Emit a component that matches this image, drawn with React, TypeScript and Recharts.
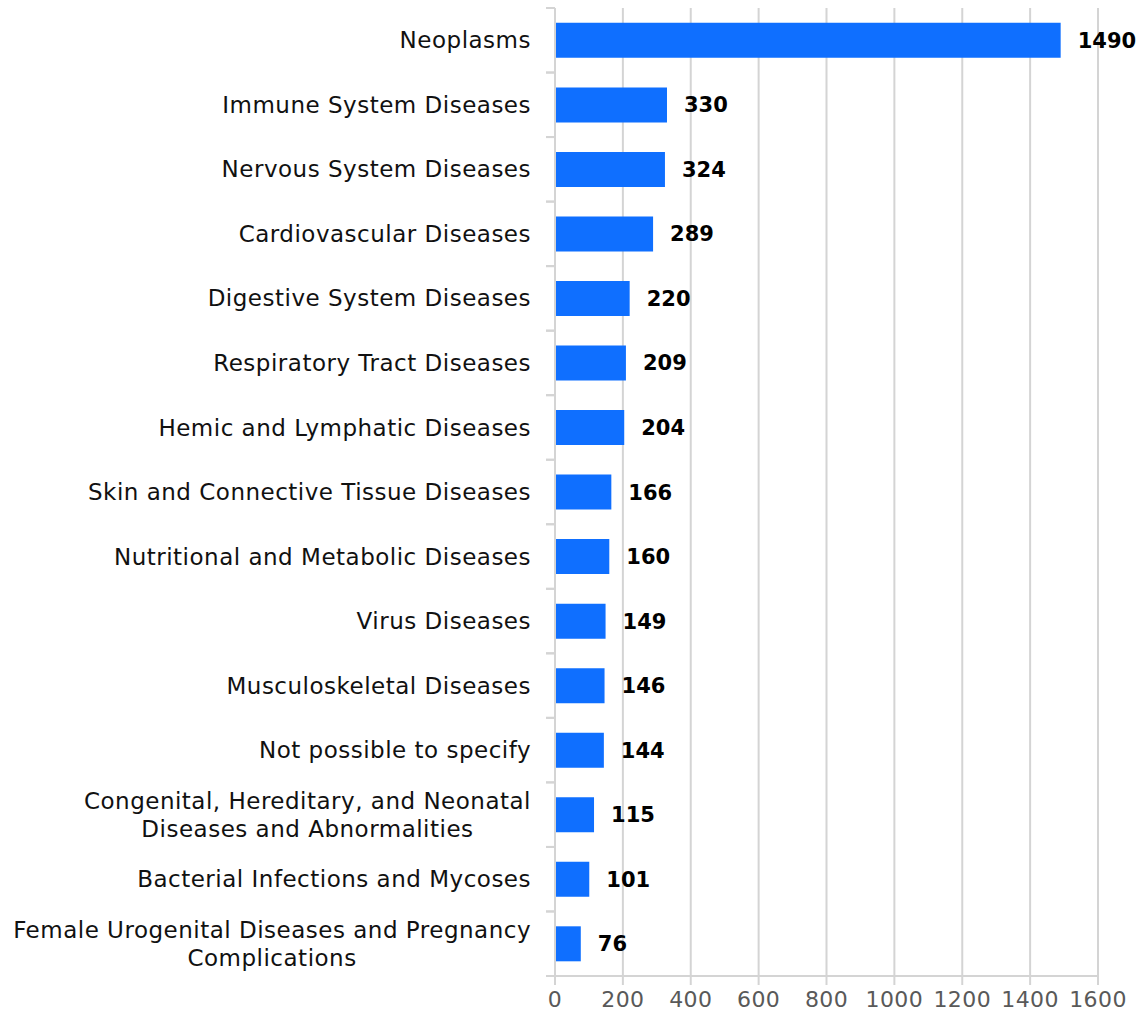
import { BarChart, Bar, XAxis, YAxis, CartesianGrid, LabelList } from 'recharts';

const categories = [
  'Neoplasms',
  'Immune System Diseases',
  'Nervous System Diseases',
  'Cardiovascular Diseases',
  'Digestive System Diseases',
  'Respiratory Tract Diseases',
  'Hemic and Lymphatic Diseases',
  'Skin and Connective Tissue Diseases',
  'Nutritional and Metabolic Diseases',
  'Virus Diseases',
  'Musculoskeletal Diseases',
  'Not possible to specify',
  'Congenital, Hereditary, and Neonatal|Diseases and Abnormalities',
  'Bacterial Infections and Mycoses',
  'Female Urogenital Diseases and Pregnancy|Complications',
];

const counts = [1490, 330, 324, 289, 220, 209, 204, 166, 160, 149, 146, 144, 115, 101, 76];

const xTicks = [0, 200, 400, 600, 800, 1000, 1200, 1400, 1600];

const data = categories.map((name, i) => ({ name, value: counts[i] }));

const W = 1147;
const H = 1020;
const TOP = 8;
const BOTTOM = 44;
const AXIS_W = 555;
const FONT = 'DejaVu Sans, Verdana, sans-serif';
const LABEL_SIZE = 23;
const SPACING = 0.5;
const GRID = '#d4d4d4';

const bandHalf = (H - TOP - BOTTOM) / categories.length / 2;

let ctx: CanvasRenderingContext2D | null = null;
function textWidth(s: string) {
  if (!ctx) ctx = document.createElement('canvas').getContext('2d');
  if (!ctx) return s.length * 12;
  ctx.font = `${LABEL_SIZE}px DejaVu Sans`;
  return ctx.measureText(s).width + s.length * SPACING;
}

function CategoryTick(props: any) {
  const { x, y, payload } = props;
  const lines = String(payload.value).split('|');
  const axisX = x + 24;
  let label;
  if (lines.length === 1) {
    label = (
      <text x={x} y={y} dy="0.35em" textAnchor="end" fontSize={LABEL_SIZE} letterSpacing={SPACING} fill="#111" fontFamily={FONT}>
        {lines[0]}
      </text>
    );
  } else {
    const cx = x - textWidth(lines[0]) / 2;
    label = (
      <text x={cx} y={y - 14} textAnchor="middle" fontSize={LABEL_SIZE} letterSpacing={SPACING} fill="#111" fontFamily={FONT}>
        {lines.map((l, i) => (
          <tspan key={i} x={cx} dy={i === 0 ? '0.35em' : 28}>{l}</tspan>
        ))}
      </text>
    );
  }
  return (
    <g>
      <line x1={axisX - 9} x2={axisX} y1={y - bandHalf} y2={y - bandHalf} stroke={GRID} strokeWidth={2} />
      <line x1={axisX - 9} x2={axisX} y1={y + bandHalf} y2={y + bandHalf} stroke={GRID} strokeWidth={2} />
      {label}
    </g>
  );
}

export default function App() {
  return (
    <div style={{ position: 'absolute', left: 0, top: 0, background: '#fff' }}>
      <BarChart
        width={W}
        height={H}
        data={data}
        layout="vertical"
        margin={{ top: TOP, right: 49, left: 0, bottom: 0 }}
        barCategoryGap="23%"
      >
        <CartesianGrid horizontal={false} stroke={GRID} strokeWidth={2} />
        <XAxis
          type="number"
          domain={[0, 1600]}
          ticks={xTicks}
          height={BOTTOM}
          tickSize={9}
          tickMargin={6}
          axisLine={{ stroke: GRID, strokeWidth: 2 }}
          tickLine={{ stroke: GRID, strokeWidth: 2 }}
          tick={{ fontSize: 22, fill: '#595959', fontFamily: FONT, letterSpacing: 0.4 }}
        />
        <YAxis
          type="category"
          dataKey="name"
          width={AXIS_W}
          tickLine={false}
          tickSize={0}
          tickMargin={24}
          interval={0}
          axisLine={{ stroke: GRID, strokeWidth: 2 }}
          tick={<CategoryTick />}
        />
        <Bar dataKey="value" fill="#0f6fff" isAnimationActive={false}>
          <LabelList
            dataKey="value"
            position="right"
            offset={17}
            fill="#000"
            fontSize={21}
            fontWeight="bold"
            fontFamily={FONT}
          />
        </Bar>
      </BarChart>
    </div>
  );
}
